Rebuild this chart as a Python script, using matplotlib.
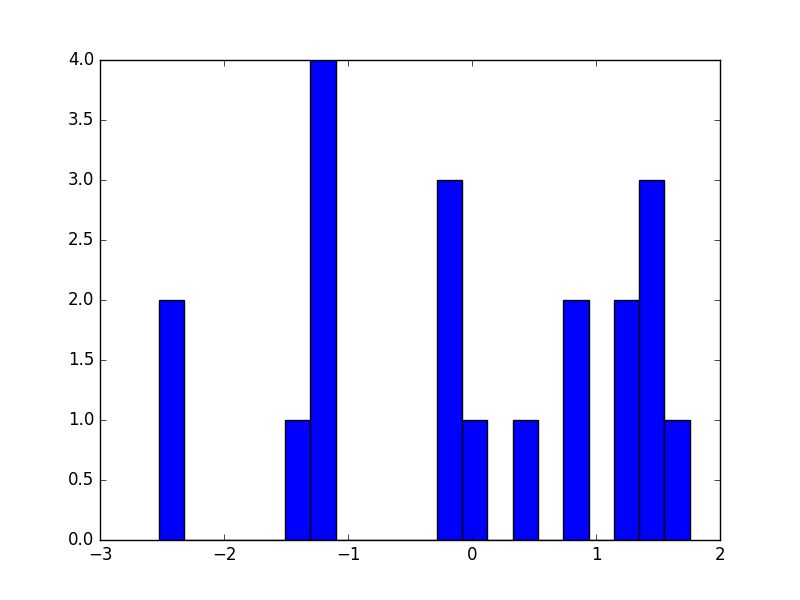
import numpy as np
import matplotlib
matplotlib.use("Agg")
import matplotlib.pyplot as plt

plt.style.use("classic")

# histogram: 21 equal bins
bin_lo = -2.526
bin_hi = 1.756
counts = [2, 0, 0, 0, 0, 1, 4, 0, 0, 0, 0, 3, 1, 0, 1, 0, 2, 0, 2, 3, 1]

edges = np.linspace(bin_lo, bin_hi, len(counts) + 1)

fig = plt.figure(figsize=(8, 6), dpi=100, facecolor="white")
ax = fig.add_subplot(111)
ax.bar(edges[:-1], counts, width=np.diff(edges), align="edge",
       color="blue", edgecolor="black", linewidth=1.0)
ax.set_xlim(-3, 2)
ax.set_ylim(0, 4)

fig.savefig("out.png", dpi=100, facecolor="white")
